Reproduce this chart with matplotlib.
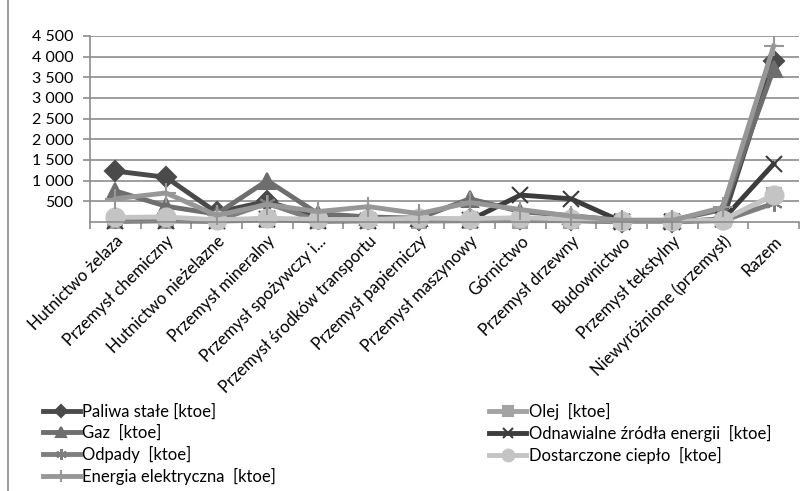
import numpy as np
import matplotlib
matplotlib.use("Agg")
import matplotlib.pyplot as plt
from matplotlib.patches import Rectangle

plt.rcParams['font.family'] = ['Lato', 'DejaVu Sans']

# categories (industry sectors)
categories = ["Hutnictwo żelaza", "Przemysł chemiczny", "Hutnictwo nieżelazne",
              "Przemysł mineralny", "Przemysł spożywczy i...", "Przemysł środków transportu",
              "Przemysł papierniczy", "Przemysł maszynowy", "Górnictwo", "Przemysł drzewny",
              "Budownictwo", "Przemysł tekstylny", "Niewyróżnione (przemysł)", "Razem"]

# energy use per carrier [ktoe]
paliwa = [1230, 1080, 230, 500, 100, 60, 40, 60, 80, 40, 10, 10, 60, 3880]
olej = [20, 30, 20, 40, 30, 30, 20, 30, 30, 30, 20, 20, 40, 650]
gaz = [750, 380, 190, 1000, 200, 120, 90, 560, 250, 150, 40, 40, 300, 3700]
odnawialne = [20, 30, 20, 80, 20, 30, 60, 40, 650, 560, 10, 10, 60, 1400]
odpady = [40, 50, 30, 450, 30, 30, 30, 30, 40, 30, 10, 10, 30, 450]
cieplo = [110, 120, 50, 90, 60, 60, 90, 80, 100, 70, 20, 20, 50, 650]
energia = [560, 700, 160, 420, 250, 370, 200, 470, 300, 140, 40, 40, 350, 4250]

series = [
    ("Paliwa stałe [ktoe]", paliwa, "#4a4a4a", "D", 10),
    ("Olej  [ktoe]", olej, "#a3a3a3", "s", 10),
    ("Gaz  [ktoe]", gaz, "#6e6e6e", "^", 11),
    ("Odnawialne źródła energii  [ktoe]", odnawialne, "#3c3c3c", "x", 12),
    ("Odpady  [ktoe]", odpady, "#7e7e7e", (6, 2, 0), 12),
    ("Dostarczone ciepło  [ktoe]", cieplo, "#c4c4c4", "o", 13),
    ("Energia elektryczna  [ktoe]", energia, "#979797", "+", 14),
]

fig = plt.figure(figsize=(8.07, 4.91), dpi=100)
ax = fig.add_axes([0.1115, 0.548, 0.8785, 0.379])

x = np.arange(len(categories))
handles = []
for name, vals, col, mk, ms in series:
    h, = ax.plot(x, vals, color=col, lw=3.5, marker=mk, ms=ms, clip_on=False,
                 mec=col, mfc=col, mew=1.5, label=name, solid_joinstyle='round')
    handles.append(h)

ax.set_xlim(-0.5, len(categories) - 0.5)
ax.set_ylim(0, 4500)
ax.set_yticks(np.arange(500, 4501, 500))
ax.set_yticklabels([f"{v:,}".replace(",", " ") for v in range(500, 4501, 500)], fontsize=11.5)
ax.yaxis.grid(True, color="#8c8c8c", lw=1.2)
ax.set_axisbelow(True)

# ticks between categories
ax.set_xticks(np.arange(-0.5, len(categories), 1.0))
ax.set_xticklabels([])
ax.set_xticks(x, minor=True)
ax.set_xticklabels(categories, minor=True, rotation=45, ha="right",
                   rotation_mode="anchor", fontsize=12)
ax.tick_params(axis="x", which="minor", length=0, pad=8)
ax.tick_params(axis="x", which="major", length=5, color="#8c8c8c", width=1.2)
ax.tick_params(axis="y", length=5, color="#8c8c8c", width=1.2, pad=7)

for s in ["top", "right"]:
    ax.spines[s].set_visible(False)
ax.spines["left"].set_color("#8c8c8c")
ax.spines["bottom"].set_color("#8c8c8c")
ax.spines["left"].set_linewidth(1.2)
ax.spines["bottom"].set_linewidth(1.2)

order = [0, 2, 4, 6, 1, 3, 5]
fig.legend([handles[i] for i in order], [series[i][0] for i in order],
           loc="upper left", bbox_to_anchor=(0.045, 1 - 396 / 491), ncol=2,
           frameon=False, fontsize=12, handlelength=2.2, handletextpad=0.15,
           columnspacing=12.8, labelspacing=0.3, borderaxespad=0, markerscale=0.65)

# outer chart frame
fig.patches.append(Rectangle((0.01, -0.01), 0.995, 1.02, transform=fig.transFigure,
                             fill=False, ec="#8c8c8c", lw=1.2))

fig.savefig("out.png", dpi=100)
